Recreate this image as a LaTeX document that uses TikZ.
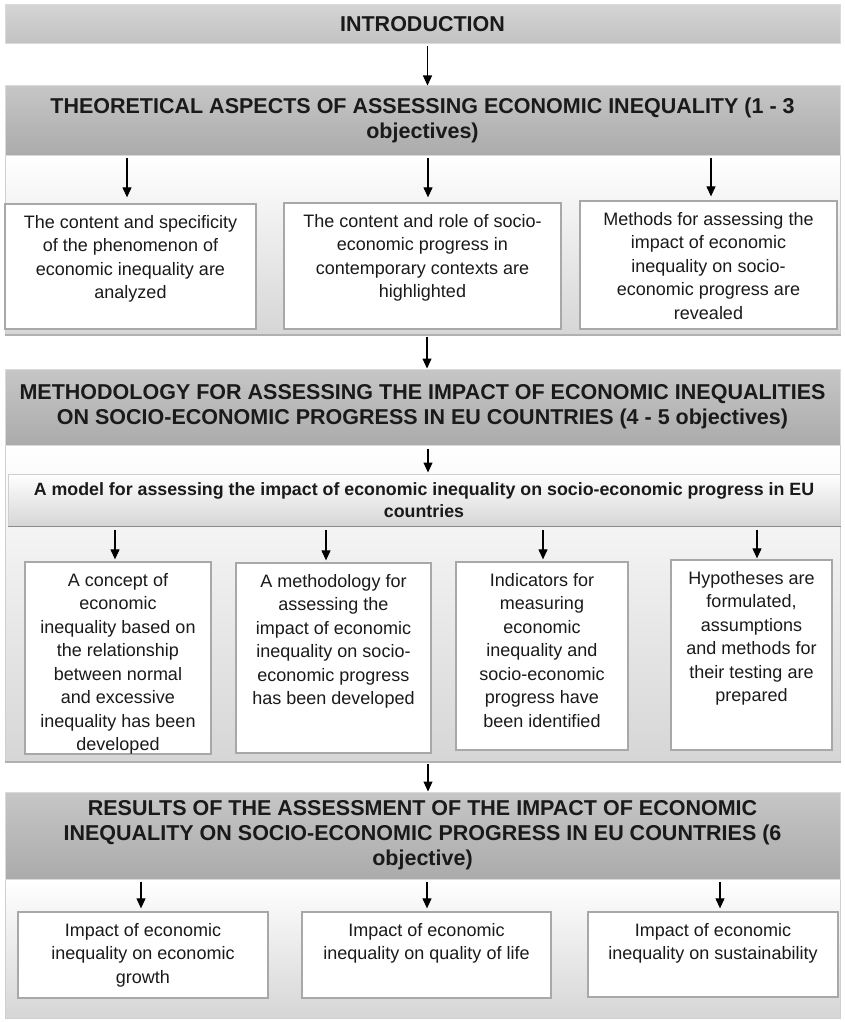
\documentclass[tikz,border=0pt]{standalone}
\usepackage{fontspec}
\setmainfont{Liberation Sans}
\usetikzlibrary{arrows.meta}
\definecolor{txt}{HTML}{1A1A1A}
\definecolor{introtop}{HTML}{D4D4D4}
\definecolor{introbot}{HTML}{C2C2C2}
\definecolor{bartop}{HTML}{C6C6C6}
\definecolor{barbot}{HTML}{ABABAB}
\definecolor{barline}{HTML}{DADADA}
\definecolor{paneltop}{HTML}{FFFFFF}
\definecolor{panelbot}{HTML}{D6D6D6}
\definecolor{panelline}{HTML}{CFCFCF}
\definecolor{shadowc}{HTML}{B0B0B0}
\definecolor{boxline}{HTML}{A8A8A8}
\tikzset{
  bar/.style={rectangle, inner sep=0pt, draw=barline, line width=1pt,
    top color=bartop, bottom color=barbot, text=txt, align=center,
    font=\bfseries\fontsize{21.5}{25}\selectfont},
  introbar/.style={bar, top color=introtop, bottom color=introbot},
  panel/.style={rectangle, inner sep=0pt, draw=panelline, line width=1pt,
    top color=paneltop, bottom color=panelbot},
  modelbox/.style={rectangle, inner sep=0pt, draw=panelline, line width=1pt,
    top color=white, bottom color=panelbot, text=txt, align=center,
    font=\bfseries\fontsize{17.8}{22}\selectfont},
  tbox/.style={rectangle, inner sep=0pt, draw=boxline, line width=1.3pt,
    fill=white, text=txt, font=\fontsize{18}{23.5}\selectfont},
  arr/.style={draw=black, line width=1.1pt, -{Triangle[length=10pt,width=9pt]}},
  shadowline/.style={draw=shadowc, line width=2pt},
}
\newcommand\mkrect[7]{%
  \node[#2, minimum width={(#5-#3)*1pt}, minimum height={(#6-#4)*1pt}]
    (#1) at ({(#3+#5)/2},{(#4+#6)/2}) {#7};}
\newcommand\mkbox[6]{%
  \node[tbox, minimum width={(#4-#2)*1pt}, minimum height={(#5-#3)*1pt}]
    (#1) at ({(#2+#4)/2},{(#3+#5)/2})
    {\parbox[c][\dimexpr#5pt-#3pt-2pt\relax][t]{\dimexpr#4pt-#2pt-6pt\relax}{\centering\vspace*{10pt}#6\par}};}
\begin{document}
\begin{tikzpicture}[x=1pt,y=-1pt]
\useasboundingbox (0,0) rectangle (845,1022);
\fill[white] (0,0) rectangle (845,1022);

% panels
\mkrect{panelA}{panel}{5}{155}{840}{334}{}
\mkrect{panelB}{panel}{5}{444}{840}{761}{}
\mkrect{panelC}{panel}{5}{879}{840}{1018}{}
\draw[shadowline] (panelA.south west) -- (panelA.south east);
\draw[shadowline] (panelB.south west) -- (panelB.south east);

% header bars
\mkrect{intro}{introbar}{5}{5}{840}{44}{INTRODUCTION}
\mkrect{theo}{bar}{5}{86}{840}{155}{THEORETICAL ASPECTS OF ASSESSING ECONOMIC INEQUALITY (1 - 3\\objectives)}
\mkrect{meth}{bar}{5}{369}{840}{445}{METHODOLOGY FOR ASSESSING THE IMPACT OF ECONOMIC INEQUALITIES\\ON SOCIO-ECONOMIC PROGRESS IN EU COUNTRIES (4 - 5 objectives)}
\mkrect{res}{bar}{5}{792}{840}{879}{RESULTS OF THE ASSESSMENT OF THE IMPACT OF ECONOMIC\\INEQUALITY ON SOCIO-ECONOMIC PROGRESS IN EU COUNTRIES (6\\objective)}

% model box
\mkrect{model}{modelbox}{8}{474}{840}{526}{A model for assessing the impact of economic inequality on socio-economic progress in EU\\countries}
\draw[draw=black!45, line width=1.5pt] (model.south west) -- (model.south east);

% theoretical boxes
\mkbox{ta}{5}{204}{256}{329}{The content and specificity\\of the phenomenon of\\economic inequality are\\analyzed}
\mkbox{tb}{284}{203}{561}{329}{The content and role of socio-\\economic progress in\\contemporary contexts are\\highlighted}
\mkbox{tc}{580}{201}{837}{329}{Methods for assessing the\\impact of economic\\inequality on socio-\\economic progress are\\revealed}

% methodology boxes
\mkbox{ma}{25}{562}{211}{754}{A concept of\\economic\\inequality based on\\the relationship\\between normal\\and excessive\\inequality has been\\developed}
\mkbox{mb}{236}{563}{431}{753}{A methodology for\\assessing the\\impact of economic\\inequality on socio-\\economic progress\\has been developed}
\mkbox{mc}{456}{562}{628}{750}{Indicators for\\measuring\\economic\\inequality and\\socio-economic\\progress have\\been identified}
\mkbox{md}{671}{560}{832}{750}{Hypotheses are\\formulated,\\assumptions\\and methods for\\their testing are\\prepared}

% result boxes
\mkbox{ra}{18}{912}{268}{998}{Impact of economic\\inequality on economic\\growth}
\mkbox{rb}{302}{912}{551}{998}{Impact of economic\\inequality on quality of life}
\mkbox{rc}{588}{912}{838}{997}{Impact of economic\\inequality on sustainability}

% connectors
\draw[arr] ([xshift=5pt,yshift=-2pt]intro.south) -- ([xshift=5pt]theo.north);
\draw[arr] ([xshift=-3.5pt]ta.north |- panelA.north) ++(0,3) -- ([xshift=-3.5pt,yshift=6pt]ta.north);
\draw[arr] ([xshift=5.5pt]tb.north |- panelA.north) ++(0,3) -- ([xshift=5.5pt,yshift=5pt]tb.north);
\draw[arr] ([xshift=2.5pt]tc.north |- panelA.north) ++(0,3) -- ([xshift=2.5pt,yshift=4pt]tc.north);
\draw[arr] ([xshift=4.5pt,yshift=-2pt]panelA.south) -- ([xshift=4.5pt]meth.north);
\draw[arr] ([xshift=5.5pt,yshift=-3pt]meth.south) -- ([xshift=4pt,yshift=1pt]model.north);
\draw[arr] ([xshift=-3pt]ma.north |- model.south) ++(0,3) -- ([xshift=-3pt,yshift=2pt]ma.north);
\draw[arr] ([xshift=-7.5pt]mb.north |- model.south) ++(0,3) -- ([xshift=-7.5pt,yshift=2pt]mb.north);
\draw[arr] ([xshift=1pt]mc.north |- model.south) ++(0,3) -- ([xshift=1pt,yshift=2pt]mc.north);
\draw[arr] ([xshift=5.5pt]md.north |- model.south) ++(0,3) -- ([xshift=5.5pt,yshift=1pt]md.north);
\draw[arr] ([xshift=5.5pt,yshift=-2pt]panelB.south) -- ([xshift=5.5pt]res.north);
\draw[arr] ([xshift=-2pt]ra.north |- panelC.north) ++(0,3) -- ([xshift=-2pt,yshift=3pt]ra.north);
\draw[arr] ([xshift=0.5pt]rb.north |- panelC.north) ++(0,3) -- ([xshift=0.5pt,yshift=3pt]rb.north);
\draw[arr] ([xshift=7pt]rc.north |- panelC.north) ++(0,3) -- ([xshift=7pt,yshift=3pt]rc.north);
\end{tikzpicture}
\end{document}
